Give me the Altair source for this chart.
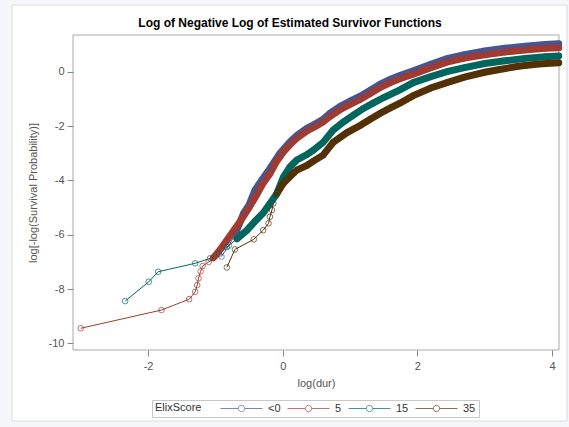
import altair as alt
import pandas as pd

# ---- data ----
groups = ["<0", "5", "15", "35"]
colors = ["#445694", "#A23A2E", "#01665E", "#543005"]

blue_x = [-0.91, -0.80, -0.70, -0.58, -0.50, -0.41, -0.30, -0.20, -0.04, 0.11, 0.21, 0.36, 0.50, 0.60, 0.70, 0.85, 1.00, 1.15, 1.30, 1.45, 1.60, 1.75, 1.95, 2.20, 2.44, 2.70, 3.00, 3.30, 3.60, 3.90, 4.10]
blue_y = [-6.80, -6.40, -5.95, -5.20, -4.90, -4.35, -3.95, -3.60, -3.00, -2.58, -2.35, -2.08, -1.90, -1.75, -1.53, -1.28, -1.08, -0.90, -0.68, -0.46, -0.28, -0.13, 0.04, 0.27, 0.48, 0.63, 0.76, 0.86, 0.94, 1.00, 1.03]

red_x = [-3.00, -1.80, -1.39, -1.30, -1.27, -1.25, -1.22, -1.19, -1.10, -1.03, -0.93, -0.83, -0.73, -0.63, -0.50, -0.39, -0.29, -0.19, -0.09, 0.01, 0.11, 0.21, 0.36, 0.50, 0.60, 0.70, 0.85, 1.00, 1.15, 1.30, 1.45, 1.60, 1.75, 1.95, 2.20, 2.44, 2.70, 3.00, 3.30, 3.60, 3.90, 4.10]
red_y = [-9.44, -8.77, -8.37, -8.10, -7.85, -7.60, -7.35, -7.15, -7.00, -6.85, -6.55, -6.20, -5.85, -5.50, -5.00, -4.55, -4.10, -3.75, -3.30, -2.95, -2.68, -2.45, -2.18, -2.00, -1.85, -1.65, -1.40, -1.20, -1.02, -0.80, -0.58, -0.40, -0.25, -0.08, 0.15, 0.35, 0.50, 0.62, 0.72, 0.80, 0.86, 0.88]

teal_x = [-2.34, -1.99, -1.85, -1.30, -1.08, -0.95, -0.83, -0.68, -0.53, -0.41, -0.29, -0.19, -0.09, 0.01, 0.11, 0.21, 0.36, 0.45, 0.60, 0.75, 0.90, 1.05, 1.20, 1.35, 1.50, 1.74, 1.94, 2.20, 2.44, 2.70, 3.00, 3.30, 3.60, 3.90, 4.10]
teal_y = [-8.44, -7.73, -7.36, -7.05, -6.87, -6.70, -6.45, -6.15, -5.83, -5.50, -5.20, -4.85, -4.50, -3.88, -3.50, -3.25, -3.05, -2.90, -2.60, -2.15, -1.85, -1.60, -1.35, -1.15, -0.95, -0.67, -0.40, -0.18, 0.00, 0.15, 0.30, 0.40, 0.49, 0.55, 0.58]

brown_x = [-0.83, -0.71, -0.43, -0.29, -0.21, -0.19, -0.16, -0.14, -0.09, 0.01, 0.11, 0.21, 0.36, 0.45, 0.60, 0.75, 0.95, 1.15, 1.30, 1.45, 1.60, 1.74, 1.94, 2.20, 2.44, 2.70, 3.00, 3.20, 3.50, 3.80, 4.10]
brown_y = [-7.20, -6.54, -6.17, -5.83, -5.58, -5.34, -5.09, -4.85, -4.50, -4.10, -3.86, -3.62, -3.45, -3.30, -3.07, -2.60, -2.25, -1.98, -1.75, -1.53, -1.33, -1.16, -0.88, -0.60, -0.40, -0.20, -0.02, 0.07, 0.20, 0.28, 0.33]

x_ticks = [-2, 0, 2, 4]
y_ticks = [-10, -8, -6, -4, -2, 0]

rows = []
for g, xs, ys in zip(groups, [blue_x, red_x, teal_x, brown_x], [blue_y, red_y, teal_y, brown_y]):
    for i, (xv, yv) in enumerate(zip(xs, ys)):
        rows.append({"ElixScore": g, "x": xv, "y": yv, "order": i})
df = pd.DataFrame(rows)

W, H = 486, 315
font = "Liberation Sans"
minus_expr = "datum.value < 0 ? '-' + abs(datum.value) : '' + datum.value"

xs = alt.Scale(domain=[-3.115, 4.104], nice=False, zero=False)
ys = alt.Scale(domain=[-10.24, 1.35], nice=False, zero=False)
cs = alt.Scale(domain=groups, range=colors)

# legend glyph: line with an open circle in the middle (scaled by sqrt(size)/2)
legend_shape = "M-6,0H-0.9M0.9,0H6M-0.9,0A0.9,0.9,0,1,0,0.9,0A0.9,0.9,0,1,0,-0.9,0"

x_enc = alt.X("x:Q", scale=xs, title="log(dur)",
              axis=alt.Axis(values=x_ticks, grid=False, domain=False, tickColor="#888888",
                            tickSize=6, labelColor="#555555", labelFontSize=11, labelPadding=4,
                            labelExpr=minus_expr,
                            titleColor="#555555", titleFontSize=11, titleFontWeight="normal",
                            titlePadding=6, labelFont=font, titleFont=font, zindex=1))
y_enc = alt.Y("y:Q", scale=ys, title="log[-log(Survival Probability)]",
              axis=alt.Axis(values=y_ticks, grid=False, domain=False, tickColor="#888888",
                            tickSize=6, labelColor="#555555", labelFontSize=11, labelPadding=3,
                            labelExpr=minus_expr,
                            titleColor="#555555", titleFontSize=11, titleFontWeight="normal",
                            titlePadding=10, labelFont=font, titleFont=font, zindex=1))
c_enc = alt.Color("ElixScore:N", scale=cs, sort=groups,
                  legend=alt.Legend(orient="none", legendX=79, legendY=365, direction="horizontal",
                                    titleOrient="left", title="ElixScore", titleFontWeight="normal",
                                    titleFontSize=11, titleColor="#333333", titleFont=font,
                                    titlePadding=34, labelFontSize=11, labelColor="#333333",
                                    labelFont=font, labelOffset=21, columnPadding=4,
                                    gridAlign="none",
                                    symbolType=legend_shape, symbolSize=49, symbolStrokeWidth=1,
                                    symbolFillColor="transparent", strokeColor="#c8c8c8",
                                    fillColor="white", padding=3))

frame = alt.Chart(alt.Data(values=[{"a": 1}])).mark_rect(
    fill="white", stroke="#dcdcdc", strokeWidth=1
).encode(x=alt.value(-61), x2=alt.value(494), y=alt.value(-30), y2=alt.value(386))

border = alt.Chart(alt.Data(values=[{"a": 1}])).mark_rect(
    fill="transparent", stroke="#a8a8a8", strokeWidth=1
).encode(x=alt.value(0), x2=alt.value(W), y=alt.value(0), y2=alt.value(H))

base = alt.Chart(df).encode(x=x_enc, y=y_enc, color=c_enc, order="order:Q")

thin = base.mark_line(strokeWidth=1)
thick = base.mark_line(strokeWidth=7, strokeCap="round").transform_filter(
    "(datum.ElixScore=='<0' && datum.x>=-0.75) || (datum.ElixScore=='5' && datum.x>=-1.05) || "
    "(datum.ElixScore=='15' && datum.x>=-0.7) || (datum.ElixScore=='35' && datum.x>=-0.1)"
)
pts = base.mark_point(shape="circle", filled=False, size=32, strokeWidth=1)

chart = alt.layer(frame, border, thin, thick, pts).properties(
    width=W, height=H,
    title=alt.Title("Log of Negative Log of Estimated Survivor Functions", fontSize=12,
                    fontWeight="bold", font=font, color="#000000", anchor="middle",
                    frame="group", dx=-26, offset=-25),
    autosize=alt.AutoSizeParams(type="none"),
    padding={"left": 73, "top": 35, "right": 10, "bottom": 77},
    background="#f6f7fb",
).configure_view(stroke=None)

chart.save("out.html", embed_options={"renderer": "svg", "actions": False})
